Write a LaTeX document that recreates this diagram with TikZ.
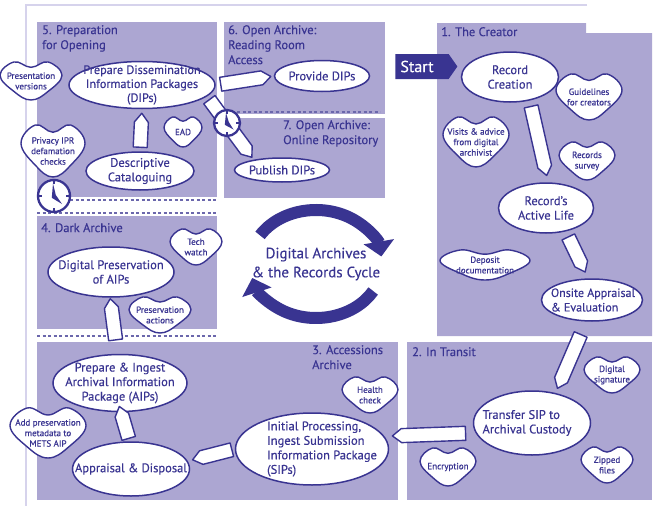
\documentclass[tikz,border=0pt]{standalone}
\usepackage{fontspec}
\setmainfont{PT Sans}[RawFeature={embolden=0.3}]
\newfontfamily\blobfont{PT Sans}[RawFeature={embolden=0.6}]
\usetikzlibrary{shapes.geometric,shapes.symbols,calc,arrows.meta}
\definecolor{lav}{RGB}{172,166,210}
\definecolor{dark}{RGB}{57,52,145}
\definecolor{framecol}{RGB}{214,211,236}
\tikzset{
 ellshape/.style={ellipse, draw=dark, line width=1.5pt, fill=white, inner sep=0pt},
 elltext/.style={text=dark, inner sep=0pt, align=center, font=\fontsize{12.5}{14.5}\selectfont},
 blobshape/.style={draw=dark, line width=1.4pt, fill=white},
 blobtext/.style={text=dark, inner sep=0pt, align=center, font=\blobfont\fontsize{9}{10.5}\selectfont},
 boxtitle/.style={anchor=north west, inner sep=0pt, text=dark, align=left, font=\fontsize{12.5}{15}\selectfont},
 pencilshape/.style={draw=dark, line width=1.4pt, fill=white, line join=round},
 sepline/.style={dark!75, line width=1.1pt, dash pattern=on 3pt off 2.5pt},
 cyc/.style={dark, line width=12pt},
}
\newcommand{\ellnode}[8][]{%
 \node[ellshape, minimum width=#5pt, minimum height=#6pt] (#2) at (#3,#4) {};
 \node[elltext,#1] (#2-t) at ($(#2.center)+(#7,0)$) {#8};
}
\newcommand{\myblob}[6]{%
 \filldraw[blobshape] plot[smooth cycle, tension=0.7] coordinates {
 ({#2-#4},{#3-0.3*#5}) ({#2-0.55*#4},{#3-#5}) ({#2},{#3-0.72*#5}) ({#2+0.55*#4},{#3-#5})
 ({#2+#4},{#3-0.3*#5}) ({#2+0.55*#4},{#3+0.55*#5}) ({#2},{#3+#5}) ({#2-0.55*#4},{#3+0.55*#5})};
 \node[blobtext] (#1) at (#2,#3) {#6};
}
\newcommand{\pencilarrow}[4]{%
 \path ($#1!#3!#2$) coordinate (pa) ($#2!#4!#1$) coordinate (pb);
 \path ($(pb)!9pt!(pa)$) coordinate (pq);
 \filldraw[pencilshape] ($(pa)!7pt!90:(pb)$) -- ($(pq)!7pt!-90:(pa)$) -- (pb) -- ($(pq)!7pt!90:(pa)$) -- ($(pa)!7pt!-90:(pb)$) -- cycle;
}
\newcommand{\clockicon}[3]{%
 \begin{scope}[shift={(#1,#2)}]
 \filldraw[fill=white, draw=dark, line width=2.3pt] (0,0) circle[radius=#3];
 \draw[dark, line width=1.4pt] (0,-#3) -- (0,{-#3+4}) (0,#3) -- (0,{#3-4}) (-#3,0) -- ({-#3+4},0) (#3,0) -- ({#3-4},0);
 \fill[dark] (-1,{-0.78*#3}) -- (1.8,-1) -- ({0.5*#3},{0.5*#3}) -- (-2.2,1.8) -- cycle;
 \end{scope}
}
\begin{document}
\begin{tikzpicture}[x=1pt,y=-1pt]
\useasboundingbox (0,0) rectangle (654,506);
\draw[framecol, line width=1.5pt] (587,5) -- (26,5) -- (26,506);
% boxes
\fill[lav] (37,22) rectangle (217,197);
\fill[lav] (224,22) rectangle (385,114);
\fill[lav] (224,118) rectangle (385,198);
\fill[lav] (437,23) -- (586,23) -- (586,33) -- (652,33) -- (652,336) -- (437,336) -- cycle;
\fill[lav] (37,216) rectangle (217,329);
\fill[lav] (37,342) rectangle (398,500);
\fill[lav] (407,342) rectangle (652,500);
% dashed separators
\draw[sepline] (226,112) -- (380,112);
\draw[sepline] (70,200) -- (217,200);
\draw[sepline] (37,213) -- (217,213);
\draw[sepline] (37,336) -- (217,336);
% titles
\node[boxtitle] (t5) at (42,25) {5. Preparation\\for Opening};
\node[boxtitle] (t6) at (228,25) {6. Open Archive:\\Reading Room\\Access};
\node[boxtitle] (t7) at (283,120) {7. Open Archive:\\Online Repository};
\node[boxtitle] (t4) at (41,223) {4. Dark Archive};
\node[boxtitle] (t3) at (312,345) {3. Accessions\\Archive};
\node[boxtitle] (t2) at (412,347) {2. In Transit};
\node[boxtitle] (t1) at (441,27) {1. The Creator};
% start
\node[signal, signal to=east, signal pointer angle=110, fill=dark, inner sep=0pt, minimum width=62pt, minimum height=25pt] (start) at (422,66.5) {};
\node[text=white, inner sep=0pt, font=\fontsize{16}{16}\selectfont] (start-t) at (417,66.5) {Start};
% centre cycle
\draw[cyc, -{Triangle[length=15pt,width=30pt]}] ({316+66*cos(-148)},{264+54*sin(-148)}) arc[start angle=-148, end angle=-8, x radius=66, y radius=54];
\draw[cyc, -{Triangle[length=15pt,width=30pt]}] ({316+66*cos(30)},{264+54*sin(30)}) arc[start angle=30, end angle=165, x radius=66, y radius=54];
\node[text=dark, align=center, inner sep=0pt, font=\fontsize{15}{19}\selectfont] (cycle) at (316,264) {Digital Archives\\\& the Records Cycle};
% ellipses
\ellnode[font=\fontsize{12.2}{14}\selectfont]{dip}{142}{85}{146}{47}{0}{Prepare Dissemination\\Information Packages\\(DIPs)}
\ellnode{desc}{140}{171}{108}{38}{0}{Descriptive\\Cataloguing}
\ellnode{provide}{322}{76}{95}{31}{0}{Provide DIPs}
\ellnode{publish}{282}{170}{95}{24}{0}{Publish DIPs}
\ellnode{rec}{510}{77}{97}{50}{0}{Record\\Creation}
\ellnode{active}{546}{208}{95}{50}{0}{Record’s\\Active Life}
\ellnode[align=left, font=\fontsize{12}{14.5}\selectfont]{onsite}{592}{300}{101}{42}{1}{Onsite Appraisal\\\& Evaluation}
\ellnode[align=left]{transfer}{532}{423}{117}{64}{-5}{Transfer SIP to\\Archival Custody}
\ellnode[align=left]{initial}{312}{449}{153}{72}{10}{Initial Processing,\\Ingest Submission\\Information Package\\(SIPs)}
\ellnode{appr}{131}{469}{117}{54}{0}{Appraisal \& Disposal}
\ellnode{pai}{120}{383}{134}{57}{0}{Prepare \& Ingest\\Archival Information\\Package (AIPs)}
\ellnode{dp}{111}{272}{126}{50}{0}{Digital Preservation\\of AIPs}
% blobs
\myblob{pres}{31}{81}{31}{19}{Presentation\\versions}
\myblob{privacy}{53}{151}{32}{26}{Privacy IPR\\defamation\\checks}
\myblob{ead}{183}{132}{19}{15}{EAD}
\myblob{tech}{196}{247}{26}{18}{Tech\\watch}
\myblob{presact}{160}{315}{31}{18}{Preservation\\actions}
\myblob{addpres}{48}{433}{38}{25}{Add preservation\\metadata to\\METS AIP}
\myblob{health}{370}{395}{28}{18}{Health\\check}
\myblob{digsig}{612}{375}{28}{18}{Digital\\signature}
\myblob{encrypt}{448}{467}{28}{19}{Encryption}
\myblob{zipped}{607}{465}{26}{18}{Zipped\\files}
\myblob{deposit}{485}{265}{45}{15}{Deposit\\documentation}
\myblob{guide}{589}{97}{33}{23}{Guidelines\\for creators}
\myblob{visits}{476}{142}{33}{25}{Visits \& advice\\from digital\\archivist}
\myblob{survey}{587}{161}{28}{19}{Records\\survey}
% pencil connectors
\pencilarrow{(desc.north)}{(dip.south)}{4pt}{4pt}
\pencilarrow{(dip.east)}{(provide.west)}{5pt}{3pt}
\pencilarrow{(dip.-10)}{(publish.160)}{4pt}{3pt}
\pencilarrow{(rec.-50)}{(active.85)}{6pt}{7pt}
\pencilarrow{(active.-50)}{(onsite.100)}{6pt}{7pt}
\pencilarrow{(onsite.-105)}{(transfer.52)}{14pt}{5pt}
\pencilarrow{(transfer.190)}{(initial.10)}{10pt}{8pt}
\pencilarrow{(initial.180)}{(appr.8)}{3pt}{5pt}
\pencilarrow{(appr.93)}{(pai.-88)}{3pt}{-6pt}
\pencilarrow{(pai.95)}{(dp.-92)}{14pt}{1pt}
% clocks
\clockicon{54}{196}{16}
\clockicon{227}{123}{13}
\end{tikzpicture}
\end{document}
